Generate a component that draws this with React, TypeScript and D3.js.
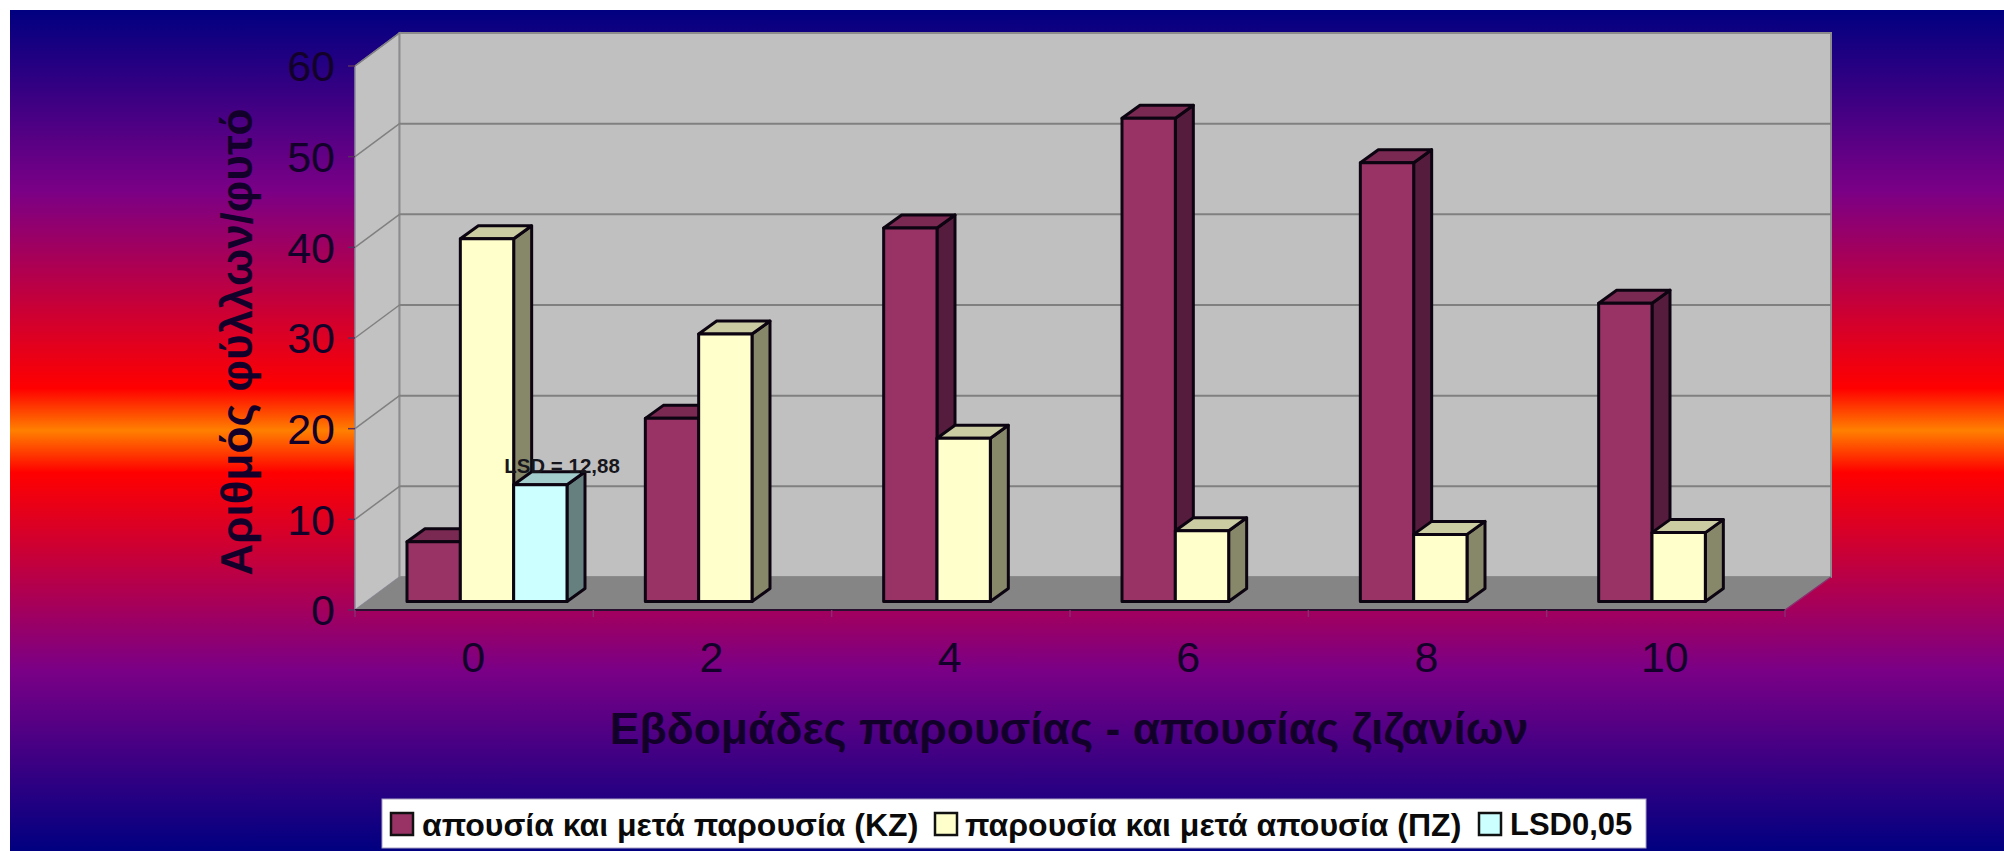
import React from "react";
import * as d3 from "d3";

const categories = ["0", "2", "4", "6", "8", "10"];
const absenceThenPresence = [6.6, 20.2, 41.2, 53.3, 48.4, 32.9];
const presenceThenAbsence = [40, 29.5, 18, 7.8, 7.4, 7.6];
const lsdValues = [12.88, null, null, null, null, null];
const yTicks = [0, 10, 20, 30, 40, 50, 60];
const seriesNames = ["απουσία και μετά παρουσία (ΚΖ)", "παρουσία και μετά απουσία (ΠΖ)", "LSD0,05"];
const xTitle = "Εβδομάδες παρουσίας - απουσίας ζιζανίων";
const yTitle = "Αριθμός φύλλων/φυτό";
const lsdLabel = "LSD = 12,88";

const FONT = "'Liberation Sans', Arial, sans-serif";
const INK = "#12002a";

const series = [
  { values: absenceThenPresence, front: "#993366", side: "#561c3d", top: "#7a2952" },
  { values: presenceThenAbsence, front: "#ffffcc", side: "#87876a", top: "#cccca3" },
  { values: lsdValues, front: "#ccffff", side: "#668080", top: "#a3cccc" },
];

const frontX0 = 355, frontX1 = 1785, frontY0 = 610, frontY60 = 66;
const wallDx = 44.5, wallDy = 33;
const barBase = 601.5, barDx = 18, barDy = 13;

const yFront = d3.scaleLinear().domain([0, 60]).range([frontY0, frontY60]);
const yBack = d3.scaleLinear().domain([0, 60]).range([frontY0 - wallDy, frontY60 - wallDy]);
const yBar = d3.scaleLinear().domain([0, 60]).range([barBase, barBase - (frontY0 - frontY60)]);
const xBand = d3.scaleBand<string>().domain(categories).range([frontX0, frontX1]);
const xInner = d3.scaleBand<number>().domain([0, 1, 2]).range([52, 212]);

const pts = (p: number[][]) => p.map((q) => q.join(",")).join(" ");

const legendItems = [
  { sw: 391, tx: 422, fs: 32, c: series[0].front },
  { sw: 935, tx: 965, fs: 32, c: series[1].front },
  { sw: 1479, tx: 1510, fs: 31, c: series[2].front },
];

export default function App() {
  return (
    <svg
      width={2004}
      height={851}
      style={{ position: "absolute", left: 0, top: 0, display: "block", background: "#fff" }}
      fontFamily={FONT}
    >
      <defs>
        <linearGradient id="bg" x1="0" y1="0" x2="0" y2="1">
          <stop offset="0" stopColor="#000080" />
          <stop offset="0.215" stopColor="#7a0086" />
          <stop offset="0.45" stopColor="#ff0000" />
          <stop offset="0.5" stopColor="#ff8000" />
          <stop offset="0.55" stopColor="#ff0000" />
          <stop offset="0.785" stopColor="#7a0086" />
          <stop offset="1" stopColor="#000080" />
        </linearGradient>
      </defs>
      <rect x={10} y={10} width={1994} height={841} fill="url(#bg)" />

      {/* walls */}
      <polygon
        points={pts([[frontX0, frontY60], [frontX0 + wallDx, frontY60 - wallDy], [frontX0 + wallDx, frontY0 - wallDy], [frontX0, frontY0]])}
        fill="#c2c2c2"
        stroke="#8c8c9c"
        strokeWidth={1.5}
      />
      <rect
        x={frontX0 + wallDx}
        y={frontY60 - wallDy}
        width={1831 - frontX0 - wallDx}
        height={frontY0 - frontY60}
        fill="#c0c0c0"
        stroke="#8c8c8c"
        strokeWidth={2}
      />
      <polygon
        points={pts([[frontX0, frontY0], [frontX1, frontY0], [1831, frontY0 - wallDy], [frontX0 + wallDx, frontY0 - wallDy]])}
        fill="#858585"
      />
      <line x1={frontX0} x2={frontX1} y1={frontY0} y2={frontY0} stroke="#2a1030" strokeWidth={2} />
      <line x1={frontX1} x2={1831} y1={frontY0} y2={frontY0 - wallDy} stroke="#8a3070" strokeWidth={1.5} />

      {/* grid, y axis */}
      {yTicks.map((t) => (
        <g key={t}>
          {t > 0 && (
            <>
              <line x1={frontX0 + wallDx} x2={1831} y1={yBack(t)} y2={yBack(t)} stroke="#808080" strokeWidth={t === 60 ? 0 : 2} />
              <line x1={frontX0} x2={frontX0 + wallDx} y1={yFront(t)} y2={yBack(t)} stroke="#808080" strokeWidth={1.5} />
            </>
          )}
          <line x1={frontX0 - 7} x2={frontX0} y1={yFront(t)} y2={yFront(t)} stroke="#5a3060" strokeWidth={1.5} />
          <text x={335} y={yFront(t)} dy="0.36em" textAnchor="end" fontSize={43} fill={INK}>
            {t}
          </text>
        </g>
      ))}

      {/* x axis */}
      {categories.map((c) => (
        <g key={c}>
          <line x1={xBand(c)!} x2={xBand(c)!} y1={frontY0} y2={frontY0 + 7} stroke="#8a2a70" strokeWidth={1.5} />
          <text
            x={xBand(c)! + xBand.bandwidth() / 2 - 1}
            y={657}
            dy="0.36em"
            textAnchor="middle"
            fontSize={43}
            fill={INK}
          >
            {c}
          </text>
        </g>
      ))}
      <line x1={frontX1} x2={frontX1} y1={frontY0} y2={frontY0 + 7} stroke="#8a2a70" strokeWidth={1.5} />

      {/* bars */}
      {categories.map((c, i) => (
        <g key={c}>
          {series.map((s, k) => {
            const v = s.values[i];
            if (v == null) return null;
            const x0 = xBand(c)! + xInner(k)!;
            const x1 = x0 + xInner.bandwidth();
            const yt = yBar(v);
            return (
              <g key={k} stroke="#0c0410" strokeWidth={3} strokeLinejoin="round">
                <polygon points={pts([[x1, yt], [x1 + barDx, yt - barDy], [x1 + barDx, barBase - barDy], [x1, barBase]])} fill={s.side} />
                <polygon points={pts([[x0, yt], [x0 + barDx, yt - barDy], [x1 + barDx, yt - barDy], [x1, yt]])} fill={s.top} />
                <rect x={x0} y={yt} width={x1 - x0} height={barBase - yt} fill={s.front} />
              </g>
            );
          })}
        </g>
      ))}

      <text x={562} y={466} dy="0.36em" textAnchor="middle" fontSize={20.5} fontWeight="bold" fill="#16161c">
        {lsdLabel}
      </text>

      {/* titles */}
      <text x={1069} y={728} dy="0.36em" textAnchor="middle" fontSize={44.5} fontWeight="bold" fill={INK}>
        {xTitle}
      </text>
      <text
        transform="translate(236,342) rotate(-90)"
        dy="0.36em"
        textAnchor="middle"
        fontSize={44}
        fontWeight="bold"
        fill={INK}
      >
        {yTitle}
      </text>

      {/* legend */}
      <rect x={382} y={799} width={1264} height={49} fill="#ffffff" stroke="#a8a0c0" strokeWidth={1} />
      {legendItems.map((l, i) => (
        <g key={i}>
          <rect x={l.sw} y={813} width={22} height={22} fill={l.c} stroke="#111" strokeWidth={2.5} />
          <text x={l.tx} y={824} dy="0.36em" fontSize={l.fs} fontWeight="bold" fill="#0a0a0a">
            {seriesNames[i]}
          </text>
        </g>
      ))}
    </svg>
  );
}
